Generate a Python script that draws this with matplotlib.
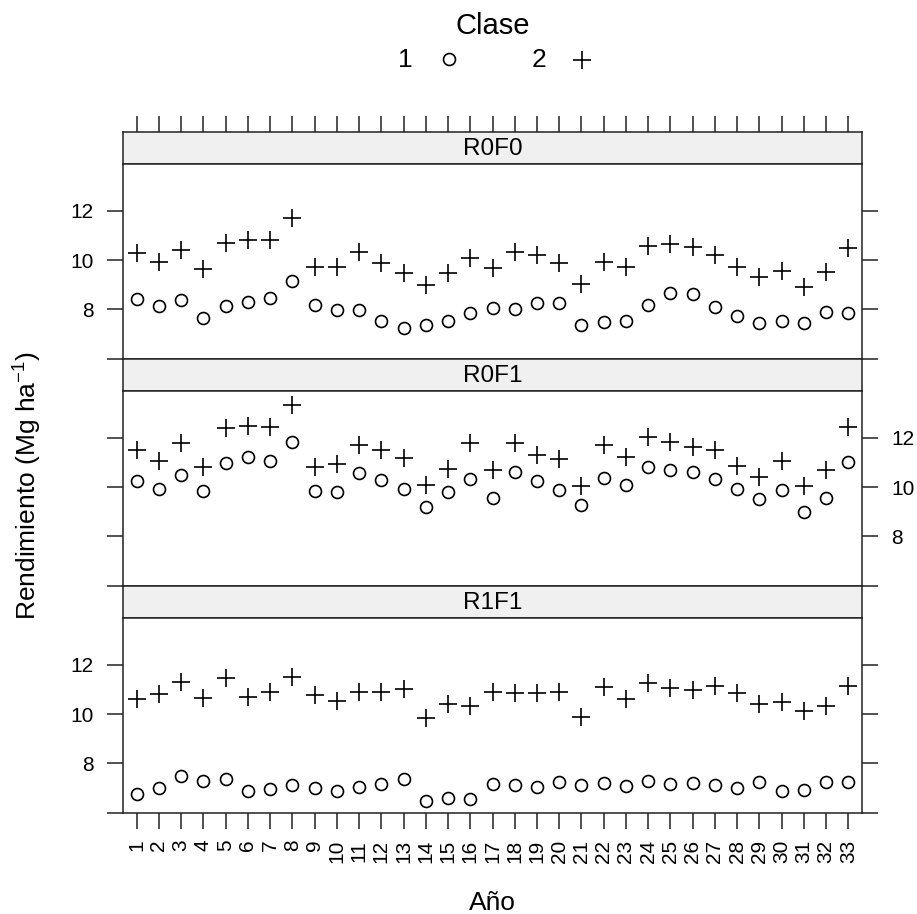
# Rendimiento por año y clase, un panel por tratamiento (estilo lattice)
import matplotlib
matplotlib.use("Agg")
import matplotlib.pyplot as plt

plt.rcParams['font.family'] = ['Liberation Sans', 'DejaVu Sans']
plt.rcParams['mathtext.fontset'] = 'custom'
plt.rcParams['mathtext.rm'] = 'Liberation Sans'
plt.rcParams['mathtext.it'] = 'Liberation Sans:italic'

anios = list(range(1, 34))
tratamientos = ['R0F0', 'R0F1', 'R1F1']
clases = ['1', '2']

r0f0_c1 = [8.41, 8.15, 8.38, 7.64, 8.15, 8.29, 8.45, 9.15, 8.17, 7.98, 7.98, 7.54, 7.26, 7.37, 7.54, 7.84, 8.04,
           8.00, 8.27, 8.25, 7.37, 7.50, 7.54, 8.18, 8.68, 8.63, 8.08, 7.73, 7.43, 7.54, 7.46, 7.91, 7.87]
r0f0_c2 = [10.28, 9.94, 10.41, 9.63, 10.69, 10.82, 10.82, 11.70, 9.74, 9.71, 10.32, 9.87, 9.47, 8.99, 9.47, 10.10, 9.67,
           10.35, 10.21, 9.87, 9.03, 9.91, 9.74, 10.59, 10.64, 10.55, 10.21, 9.71, 9.33, 9.57, 8.90, 9.51, 10.48]
r0f1_c1 = [10.24, 9.91, 10.51, 9.86, 10.97, 11.22, 11.08, 11.82, 9.84, 9.80, 10.57, 10.30, 9.93, 9.19, 9.80, 10.34, 9.57,
           10.61, 10.24, 9.89, 9.26, 10.38, 10.11, 10.81, 10.68, 10.61, 10.34, 9.93, 9.53, 9.89, 8.99, 9.57, 11.01]
r0f1_c2 = [11.51, 11.05, 11.78, 10.81, 12.41, 12.50, 12.43, 13.34, 10.81, 10.95, 11.73, 11.51, 11.19, 10.11, 10.74, 11.78, 10.68,
           11.78, 11.32, 11.15, 10.03, 11.73, 11.24, 12.05, 11.82, 11.65, 11.51, 10.88, 10.43, 11.08, 10.03, 10.68, 12.46]
r1f1_c1 = [6.77, 7.00, 7.51, 7.27, 7.38, 6.88, 6.97, 7.14, 7.01, 6.88, 7.04, 7.15, 7.38, 6.47, 6.59, 6.54, 7.18,
           7.11, 7.04, 7.24, 7.11, 7.22, 7.07, 7.27, 7.18, 7.20, 7.11, 7.00, 7.24, 6.88, 6.93, 7.24, 7.24]
r1f1_c2 = [10.62, 10.82, 11.32, 10.66, 11.47, 10.69, 10.92, 11.50, 10.80, 10.55, 10.92, 10.92, 11.03, 9.84, 10.42, 10.32, 10.89,
           10.86, 10.86, 10.89, 9.88, 11.12, 10.62, 11.27, 11.05, 11.00, 11.14, 10.86, 10.42, 10.49, 10.15, 10.35, 11.16]

datos = [(r0f0_c1, r0f0_c2), (r0f1_c1, r0f1_c2), (r1f1_c1, r1f1_c2)]
yticks = [6, 8, 10, 12]
ylabels = ['', '8', '10', '12']

W, H = 917, 914
fig = plt.figure(figsize=(W / 100, H / 100), dpi=100)


def caja(x0, y0, x1, y1):
    # pixeles (desde arriba) -> fracciones de figura
    return [x0 / W, 1 - y1 / H, (x1 - x0) / W, (y1 - y0) / H]


izq, der = 123.3, 861.7
arriba = 131.7
alto_strip, alto_panel = 32.5, 194.5
lw = 1.1
tick_kw = dict(length=11.5, width=lw, direction='out', color='#222222')
marcas = [dict(marker='o', ms=8.6, mfc='none', mec='black', mew=1.2),
          dict(marker='+', ms=12.5, mec='black', mew=1.2)]

for i, trat in enumerate(tratamientos):
    y0 = arriba + i * (alto_strip + alto_panel)
    strip = fig.add_axes(caja(izq, y0, der, y0 + alto_strip))
    ax = fig.add_axes(caja(izq, y0 + alto_strip, der, y0 + alto_strip + alto_panel))

    for serie, m in zip(datos[i], marcas):
        ax.plot(anios, serie, linestyle='none', **m)

    ax.set_xlim(0.4, 33.6)
    ax.set_ylim(6.0, 13.9)
    ax.set_yticks(yticks)
    ax.set_yticklabels(ylabels)
    ax.tick_params(axis='y', left=True, right=True, labelsize=15, **tick_kw)
    ax.tick_params(axis='y', labelleft=(i != 1), labelright=(i == 1))
    ax.tick_params(axis='y', which='major', pad=10)
    ax.set_xticks(anios)
    if i == 2:
        ax.set_xticklabels([str(a) for a in anios], rotation=90, va='top')
        ax.tick_params(axis='x', bottom=True, labelsize=15, pad=8, **tick_kw)
    else:
        ax.tick_params(axis='x', bottom=False, labelbottom=False)

    strip.set_facecolor('#f0f0f0')
    strip.set_xlim(0.4, 33.6)
    strip.set_yticks([])
    strip.text(0.5, 0.47, trat, transform=strip.transAxes, ha='center', va='center', fontsize=17.5)
    if i == 0:
        strip.set_xticks(anios)
        strip.tick_params(axis='x', bottom=False, labelbottom=False, top=True, labeltop=False, **tick_kw)
    else:
        strip.set_xticks([])

    for a in (ax, strip):
        for s in a.spines.values():
            s.set_linewidth(lw)
            s.set_color('#222222')

# leyenda de clases
fig.text(493 / W, 1 - 26 / H, 'Clase', ha='center', va='center', fontsize=21)
fig.text(405 / W, 1 - 60 / H, clases[0], ha='center', va='center', fontsize=19)
fig.text(539 / W, 1 - 60 / H, clases[1], ha='center', va='center', fontsize=19)
leyenda = fig.add_axes([0, 0, 1, 1], facecolor='none')
leyenda.set_xlim(0, W)
leyenda.set_ylim(H, 0)
leyenda.axis('off')
leyenda.plot([449], [59], linestyle='none', **marcas[0])
leyenda.plot([582], [60], linestyle='none', **marcas[1])

fig.text(28 / W, 1 - 486 / H, r'Rendimiento (Mg ha$^{-1}$)', rotation=90, ha='center', va='center', fontsize=19)
fig.text(492.5 / W, 1 - 903 / H, 'Año', ha='center', va='center', fontsize=19)

fig.savefig('out.png', dpi=100)
